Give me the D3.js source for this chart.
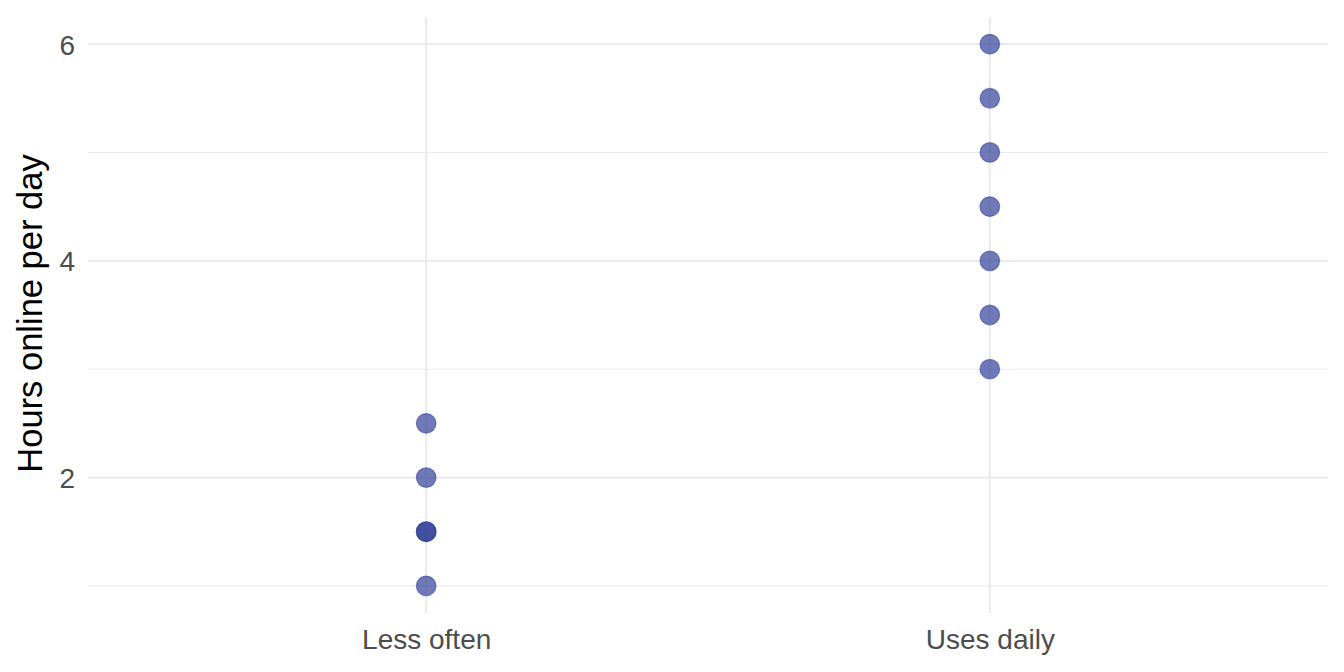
<!DOCTYPE html>
<html>
<head>
<meta charset="utf-8">
<script src="https://cdn.jsdelivr.net/npm/d3@7"></script>
<style>
  body { margin: 0; background: #fff; }
  svg { display: block; font-family: "Liberation Sans", Arial, sans-serif; }
</style>
</head>
<body>
<svg id="chart" width="1344" height="672"></svg>
<script>
const categories = ["Less often", "Uses daily"];
const lessOftenHours = [1, 1.5, 1.5, 2, 2.5];
const usesDailyHours = [3, 3.5, 4, 4.5, 5, 5.5, 6];
const yMajorTicks = [2, 4, 6];
const yMinorTicks = [1, 3, 5];
const yTitle = "Hours online per day";

const points = [
  ...lessOftenHours.map(v => ({ cat: categories[0], v })),
  ...usesDailyHours.map(v => ({ cat: categories[1], v }))
];

const panel = { left: 88, right: 1328, top: 17, bottom: 613 };
const svg = d3.select("#chart");

// discrete scale with ggplot-like expansion (0.6 units each side)
const xIdx = d3.scaleLinear().domain([0.4, categories.length + 0.6]).range([panel.left, panel.right]);
const x = c => xIdx(categories.indexOf(c) + 1);
const y = d3.scaleLinear().domain([0.75, 6.25]).range([panel.bottom, panel.top]);

const grid = svg.append("g");
grid.selectAll("line.minor").data(yMinorTicks).join("line")
  .attr("x1", panel.left).attr("x2", panel.right)
  .attr("y1", d => y(d)).attr("y2", d => y(d))
  .attr("stroke", "#EBEBEB").attr("stroke-width", 1.1);
grid.selectAll("line.major").data(yMajorTicks).join("line")
  .attr("x1", panel.left).attr("x2", panel.right)
  .attr("y1", d => y(d)).attr("y2", d => y(d))
  .attr("stroke", "#EBEBEB").attr("stroke-width", 2.2);
grid.selectAll("line.vmajor").data(categories).join("line")
  .attr("x1", d => x(d)).attr("x2", d => x(d))
  .attr("y1", panel.top).attr("y2", panel.bottom)
  .attr("stroke", "#EBEBEB").attr("stroke-width", 2.2);

// y axis labels
const yAxis = d3.axisLeft(y).tickValues(yMajorTicks).tickSize(0).tickPadding(0).tickFormat(d3.format("d"));
const yg = svg.append("g").attr("transform", `translate(${panel.left - 13},0)`).call(yAxis);
yg.select(".domain").remove();
yg.selectAll("text").attr("fill", "#4D4D4D").style("font-size", "28px").attr("dy", "0.36em");

// x axis labels
const xAxisScale = d3.scalePoint().domain(categories).range([x(categories[0]), x(categories[1])]);
const xAxis = d3.axisBottom(xAxisScale).tickSize(0).tickPadding(0);
const xg = svg.append("g").attr("transform", `translate(0,649)`).call(xAxis);
xg.select(".domain").remove();
xg.selectAll("text").attr("fill", "#4D4D4D").style("font-size", "28px").attr("dy", "0");

// y title
svg.append("text")
  .attr("transform", `translate(42,${(155 + 472) / 2}) rotate(-90)`)
  .attr("text-anchor", "middle")
  .attr("fill", "#000")
  .style("font-size", "34.5px")
  .text(yTitle);

// points
svg.append("g").selectAll("circle").data(points).join("circle")
  .attr("cx", d => x(d.cat))
  .attr("cy", d => y(d.v))
  .attr("r", 9.8)
  .attr("fill", "#2E3B96")
  .attr("fill-opacity", 0.68)
  .attr("stroke", "#2E3B96")
  .attr("stroke-opacity", 0.55)
  .attr("stroke-width", 1.2);
</script>
</body>
</html>
